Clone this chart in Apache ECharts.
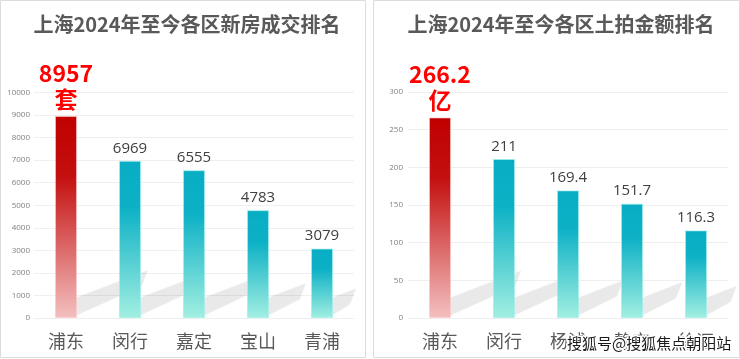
<!DOCTYPE html>
<html><head><meta charset="utf-8">
<script src="https://cdn.jsdelivr.net/npm/echarts@6/dist/echarts.min.js"></script>
<style>html,body{margin:0;padding:0;background:#fff}#c{width:740px;height:359px}</style>
</head><body><div id="c"></div>
<script>
const titleA = '上海2024年至今各区新房成交排名';
const titleB = '上海2024年至今各区土拍金额排名';
const categoriesA = ['浦东', '闵行', '嘉定', '宝山', '青浦'];
const valuesA = [8957, 6969, 6555, 4783, 3079];
const unitA = '套';
const categoriesB = ['浦东', '闵行', '杨浦', '静安', '徐汇'];
const valuesB = [266.2, 211, 169.4, 151.7, 116.3];
const unitB = '亿';
const watermark = '搜狐号@搜狐焦点朝阳站';

const CJK = '"Noto Sans CJK SC", "Noto Sans", sans-serif';
const NUM = '"Open Sans", "Noto Sans", sans-serif';

const redGrad = {type:'linear',x:0,y:0,x2:0,y2:1,colorStops:[
  {offset:0,color:'#c00000'},{offset:0.3,color:'#c3100f'},{offset:1,color:'#f4c0c0'}]};
const tealGrad = {type:'linear',x:0,y:0,x2:0,y2:1,colorStops:[
  {offset:0,color:'#08adc5'},{offset:0.3,color:'#0db1c6'},{offset:1,color:'#a2efe1'}]};

function barData(vals, unit){
  return vals.map((v,i)=> i===0 ? {
    value: v,
    itemStyle: {color: redGrad, borderColor:'rgba(255,200,200,0.6)', borderWidth:1},
    label: {formatter: '{r|' + v + '}\n{r|' + unit + '}', distance: 4,
      rich: {r: {fontSize: 23, fontWeight: 'bold', color: '#ff0000', fontFamily: CJK, lineHeight: 26, align:'center'}}}
  } : {value: v, itemStyle: {color: tealGrad, borderColor:'rgba(160,240,235,0.7)', borderWidth:1}});
}

function shadowSeries(xi, vals){
  return {
    type: 'custom', xAxisIndex: xi, yAxisIndex: xi, z: 1, silent: true,
    data: vals.map((v,i)=>[i, v]),
    renderItem: function(params, api){
      const base = api.coord([api.value(0), 0]);
      const top = api.coord([api.value(0), api.value(1)]);
      const h = base[1] - top[1];
      const dx = h * 0.36, dy = dx * 0.38, t = 18;
      const x1 = base[0] + 9, y0 = base[1] - 2;
      return {
        type: 'polygon',
        shape: {points: [[x1, y0], [x1, y0 - t], [x1 + dx, y0 - t - dy], [x1 + dx - 6, y0 - dy - 2]]},
        style: {fill: 'rgba(0,0,0,0.08)', shadowBlur: 8, shadowColor: 'rgba(0,0,0,0.14)'}
      };
    }
  };
}

const axisLabelY = {fontSize: 8, color: '#808080', fontFamily: NUM, margin: 4, formatter: function(v){ return String(v); }};
const splitLineY = {lineStyle: {color: '#efefef', width: 1}};

const chart = echarts.init(document.getElementById('c'), null, {renderer: 'canvas'});
chart.setOption({
  backgroundColor: '#ffffff',
  animation: false,
  graphic: [
    {type:'rect', shape:{x:0.5,y:0.5,width:365,height:357}, style:{fill:'none',stroke:'#dcdcdc',lineWidth:1}, z:-10},
    {type:'rect', shape:{x:373.5,y:0.5,width:366,height:357}, style:{fill:'none',stroke:'#dcdcdc',lineWidth:1}, z:-10},
    {type:'text', x: 567, y: 336, z: 100,
      style:{text: watermark, font: '15px ' + CJK, fill: '#1a1a1a', stroke: '#ffffff', lineWidth: 3}}
  ],
  title: [
    {text: titleA, left: 182, top: 9, textAlign: 'center',
      textStyle: {fontSize: 20, fontWeight: 'bold', color: '#595959', fontFamily: CJK}},
    {text: titleB, left: 556, top: 9, textAlign: 'center',
      textStyle: {fontSize: 20, fontWeight: 'bold', color: '#595959', fontFamily: CJK}}
  ],
  grid: [
    {left: 34, width: 320, top: 92.5, bottom: 41},
    {left: 408, width: 320, top: 92, bottom: 41}
  ],
  xAxis: [
    {type:'category', gridIndex:0, data: categoriesA, axisTick:{show:false},
      axisLine:{lineStyle:{color:'#efefef'}},
      axisLabel:{fontSize:18, color:'#595959', fontFamily: CJK, margin: 14}},
    {type:'category', gridIndex:1, data: categoriesB, axisTick:{show:false},
      axisLine:{lineStyle:{color:'#efefef'}},
      axisLabel:{fontSize:18, color:'#595959', fontFamily: CJK, margin: 14}}
  ],
  yAxis: [
    {type:'value', gridIndex:0, min:0, max:10000, interval:1000, axisLabel: axisLabelY, splitLine: splitLineY,
      axisLine:{show:false}, axisTick:{show:false}},
    {type:'value', gridIndex:1, min:0, max:300, interval:50, axisLabel: Object.assign({}, axisLabelY, {margin:5}), splitLine: splitLineY,
      axisLine:{show:false}, axisTick:{show:false}}
  ],
  series: [
    shadowSeries(0, valuesA),
    shadowSeries(1, valuesB),
    {type:'bar', xAxisIndex:0, yAxisIndex:0, barWidth: 22, z: 3, data: barData(valuesA, unitA),
      label:{show:true, position:'top', distance:5, fontSize:15, color:'#404040', fontFamily: NUM}},
    {type:'bar', xAxisIndex:1, yAxisIndex:1, barWidth: 22, z: 3, data: barData(valuesB, unitB),
      label:{show:true, position:'top', distance:5, fontSize:15, color:'#404040', fontFamily: NUM}}
  ]
});
</script>
</body></html>
